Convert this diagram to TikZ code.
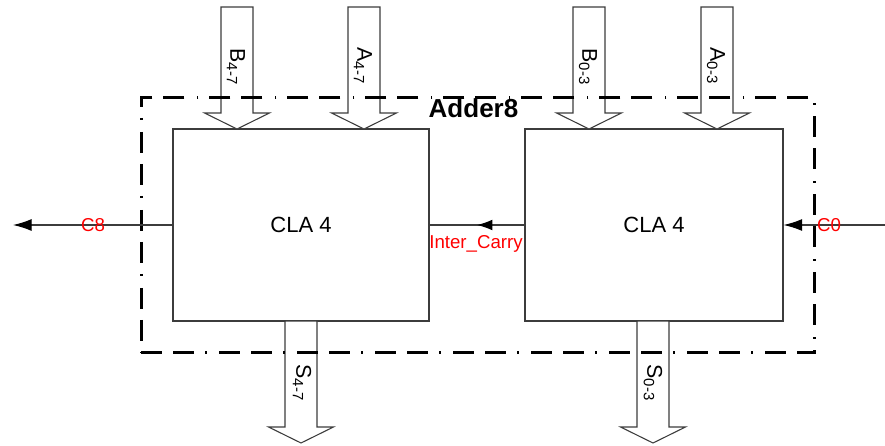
\documentclass[tikz,border=0pt]{standalone}
\usepackage{fontspec}
\setmainfont{Liberation Sans}
\usetikzlibrary{arrows.meta,positioning,fit,calc,decorations.markings}
\definecolor{AddLine}{RGB}{60,60,60}
\definecolor{AddFrame}{RGB}{0,0,0}
\definecolor{AddRed}{RGB}{255,0,0}
\tikzset{
  add/block/.style={
    draw=AddLine,
    line width=0.8pt,
    fill=white,
    align=center,
    minimum width=192pt,
    minimum height=144pt,
    inner sep=0pt,
    font=\fontsize{16.5}{19}\selectfont
  },
  add/frame/.style={
    draw=AddFrame,
    line width=2.2pt,
    dash pattern=on 15.75pt off 8.25pt on 15.75pt off 8.25pt on 1.2pt off 9.3pt,
    inner sep=23.5pt
  },
  add/bus/.style={draw=AddLine, line width=0.8pt, fill=white, line join=miter},
  add/wire/.style={draw=AddLine, line width=0.8pt},
  add/carry/.style={-{Latex[length=14pt,width=9pt,color=black]}, draw=AddLine, line width=0.8pt},
  add/midarrow/.style={postaction={decorate}, decoration={markings,
      mark=at position 0.5 with {\arrow{Latex[length=11.5pt,width=8pt,color=black]}}}},
  add/title/.style={font=\fontsize{19.5}{22}\selectfont\bfseries, text=black},
  add/buslabel/.style={font=\fontsize{16}{19}\selectfont, rotate=-90, inner sep=0pt},
  add/redlabel/.style={font=\fontsize{14}{16}\selectfont, text=AddRed, inner sep=0pt},
  pics/busin/.style={code={
    \draw[add/bus] (0,0) -- (-32.5,-16) -- (-16,-16) -- (-16,-#1) -- (16,-#1) -- (16,-16) -- (32.5,-16) -- cycle;
  }}
}

\begin{document}
\begin{tikzpicture}[x=0.75pt,y=-0.75pt]
  \useasboundingbox (0,0) rectangle (885,446);
  % the two 4-bit blocks
  \node[add/block] (clahi) at (301,225) {CLA 4};
  \node[add/block,minimum width=193.5pt] (clalo) at (654,225) {CLA 4};

  % operand and sum buses
  \pic at (237,129) {busin=122};
  \pic at (364,129) {busin=122};
  \pic at (589,129) {busin=122};
  \pic at (717,129) {busin=122};
  \pic at (301,443) {busin=122};
  \pic at (653,443) {busin=122};

  % enclosing adder
  \node[add/frame,fit=(clahi)(clalo)] (adder) {};
  \node[add/title,anchor=base] (title) at (473.5,117) {Adder8};

  \node[add/buslabel] (lb47) at (236,67) {B\textsubscript{4-7}};
  \node[add/buslabel] (la47) at (363,66) {A\textsubscript{4-7}};
  \node[add/buslabel] (lb03) at (588,67) {B\textsubscript{0-3}};
  \node[add/buslabel] (la03) at (716,66) {A\textsubscript{0-3}};
  \node[add/buslabel] (ls47) at (302,383) {S\textsubscript{4-7}};
  \node[add/buslabel] (ls03) at (653,383) {S\textsubscript{0-3}};

  % carries
  \coordinate (c8end) at (13,225);
  \coordinate (c0start) at (885,225);
  \draw[add/carry] (clahi.west) -- (c8end);
  \draw[add/carry] (c0start) -- (clalo.east);
  \draw[add/wire,add/midarrow] (clalo.west) -- (clahi.east);
  \node[add/redlabel] (c8) at (93,225) {C8};
  \node[add/redlabel] (c0) at (829,225) {C0};
  \node[add/redlabel] (inter) at (476,244) {Inter\_Carry};
\end{tikzpicture}
\end{document}
